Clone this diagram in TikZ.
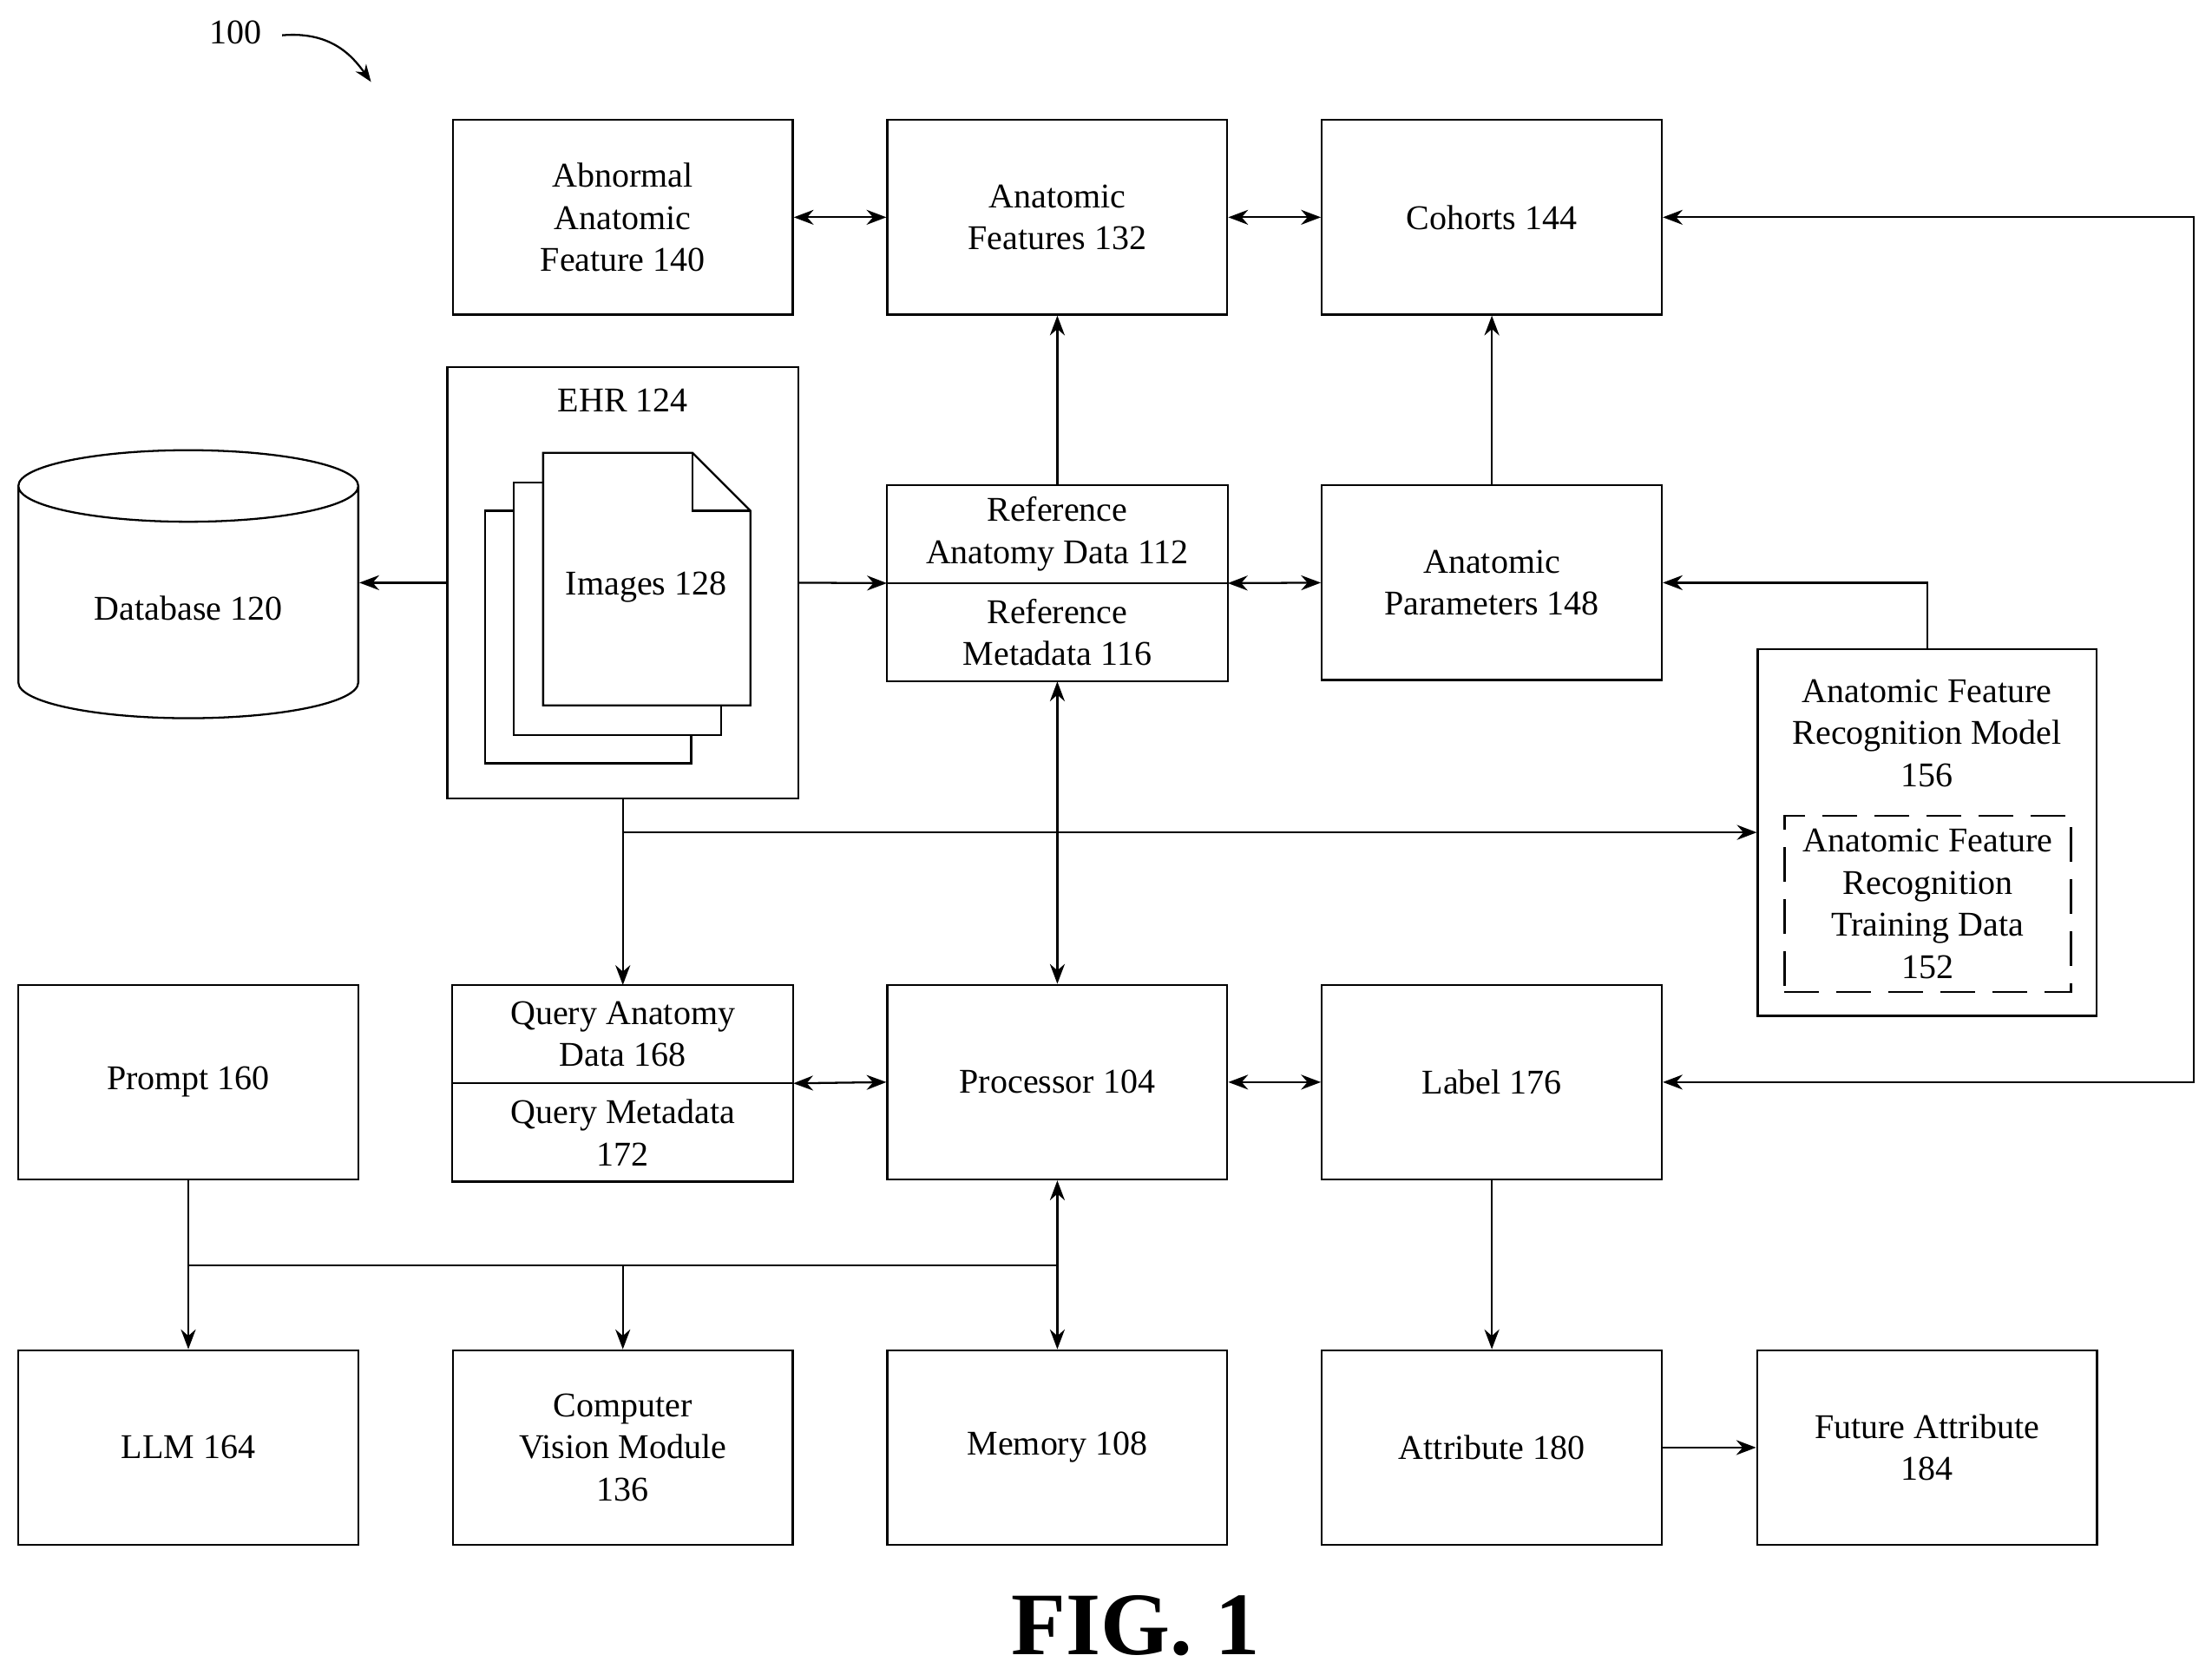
\documentclass[tikz,border=0pt]{standalone}
\usepackage{fontspec}
\setmainfont{Liberation Serif}
\usetikzlibrary{positioning,shapes.geometric,arrows.meta}

\tikzset{
  box/.style={draw, thick, minimum width=4.82cm, minimum height=2.76cm, align=center, inner sep=2pt},
  half/.style={minimum width=4.82cm, minimum height=1.38cm, align=center, inner sep=1pt},
  conn/.style={thick, -{Stealth[length=8pt,width=6pt]}},
  both/.style={thick, {Stealth[length=8pt,width=6pt]}-{Stealth[length=8pt,width=6pt]}},
}

\begin{document}
\begin{tikzpicture}[x=0.02cm, y=-0.02cm, font=\fontsize{14}{17}\selectfont]
    \useasboundingbox (0,0) rectangle (1568,1187);

    % Top row
    \node[box] (abn) at (441.5,154) {Abnormal\\Anatomic\\Feature 140};
    \node[box] (feat) at (749.5,154) {Anatomic\\Features 132};
    \node[box] (coh) at (1057.5,154) {Cohorts 144};

    % EHR with images
    \node[draw, thick, minimum width=4.98cm, minimum height=6.12cm] (ehr) at (441.5,413) {};
    \node[below=0.2cm of ehr.north] {EHR 124};
    \draw[thick, fill=white] (344,362) rectangle (490,541);
    \draw[thick, fill=white] (364,342) rectangle (511,521);
    \draw[thick, fill=white] (385,321) -- (491,321) -- (532,362) -- (532,500) -- (385,500) -- cycle;
    \draw[thick] (491,321) -- (491,362) -- (532,362);
    \node (img) at (458,416) {Images 128};

    % Database
    \node[draw, thick, cylinder, shape border rotate=90, aspect=0.35,
          minimum width=4.82cm, minimum height=3.8cm] (db) at (133.5,431) {Database 120};

    % Reference data
    \node[half] (refa) at (749.5,378.5) {Reference\\Anatomy Data 112};
    \node[half, below=0pt of refa] (refm) {Reference\\Metadata 116};
    \draw[thick] (refa.north west) rectangle (refm.south east);
    \draw[thick] (refa.south west) -- (refa.south east);
    \node[box] (par) at (1057.5,413) {Anatomic\\Parameters 148};

    % Recognition model
    \node[draw, thick, minimum width=4.8cm, minimum height=5.2cm] (afrm) at (1366,590) {};
    \node[align=center, below=0.32cm of afrm.north] {Anatomic Feature\\Recognition Model\\156};
    \node[draw, thick, dash pattern=on 14pt off 7pt, minimum width=4.06cm, minimum height=2.5cm,
          align=center, inner sep=0pt] (train) at (1366.5,640.5) {Anatomic Feature\\Recognition\\Training Data\\152};

    % Middle row
    \node[box] (prm) at (133.5,767) {Prompt 160};
    \node[half] (qad) at (441.5,733) {Query Anatomy\\Data 168};
    \node[half, below=0pt of qad] (qmd) {Query Metadata\\172};
    \draw[thick] (qad.north west) rectangle (qmd.south east);
    \draw[thick] (qad.south west) -- (qad.south east);
    \node[box] (proc) at (749.5,767) {Processor 104};
    \node[box] (lab) at (1057.5,767) {Label 176};

    % Bottom row
    \node[box] (llm) at (133.5,1026) {LLM 164};
    \node[box] (cv) at (441.5,1026) {Computer\\Vision Module\\136};
    \node[box] (mem) at (749.5,1026) {Memory 108};
    \node[box] (att) at (1057.5,1026) {Attribute 180};
    \node[box] (fut) at (1366,1026) {Future Attribute\\184};

    % Labels
    \node (num) at (167,23) {100};
    \node[font=\bfseries\fontsize{36}{40}\selectfont] (fig) at (805,1152) {FIG. 1};
    \draw[thick, -{Stealth[length=7pt]}] (200,25) .. controls (235,22) and (250,40) .. (263,58);

    % Connectors
    \draw[both] (abn) -- (feat);
    \draw[both] (feat) -- (coh);
    \draw[conn] (refa) -- (feat);
    \draw[conn] (par) -- (coh);
    \draw[conn] (ehr.west |- 0,413) -- (db.east |- 0,413);
    \draw[conn] (ehr.east |- 0,413) -- (refa.south west);
    \draw[both] (refa.south east) -- (par.west |- 0,413);
    \draw[conn] (afrm.north) -- (1366,413) -- (par.east |- 0,413);
    \draw[both] (coh.east) -- (1555,154) -- (1555,767) -- (lab.east);
    \draw[conn] (ehr.south) -- (qad.north);
    \draw[conn] (441.5,590) -- (afrm.west |- 0,590);
    \draw[both] (refm.south) -- (proc.north);
    \draw[both] (qmd.north east) -- (proc.west);
    \draw[both] (proc) -- (lab);
    \draw[both] (proc.south) -- (mem.north);
    \draw[conn] (prm.south) -- (llm.north);
    \draw[thick] (133.5,897) -- (749.5,897);
    \draw[conn] (441.5,897) -- (cv.north);
    \draw[conn] (lab) -- (att);
    \draw[conn] (att) -- (fut);
\end{tikzpicture}
\end{document}
